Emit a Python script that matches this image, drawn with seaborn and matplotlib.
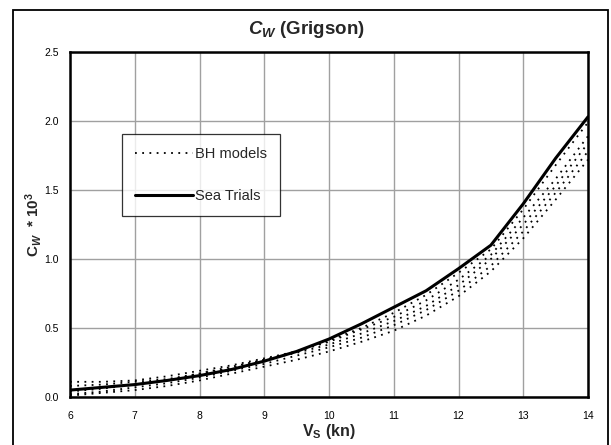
import numpy as np
import pandas as pd
import matplotlib
matplotlib.use("Agg")
import matplotlib.pyplot as plt
from matplotlib.lines import Line2D
from matplotlib.patches import Rectangle
import seaborn as sns

# speed (kn)
speed = [6, 6.5, 7, 7.5, 8, 8.5, 9, 9.5, 10, 10.5, 11, 11.5, 12, 12.5, 13, 13.5, 14]

# Cw * 10^3, sea trials
sea_trials = [0.05, 0.07, 0.09, 0.12, 0.155, 0.20, 0.26, 0.33, 0.42, 0.53, 0.65, 0.77, 0.93, 1.10, 1.40, 1.73, 2.03]

# Cw * 10^3, BH models
bh_1 = [0.08, 0.09, 0.11, 0.13, 0.17, 0.21, 0.27, 0.33, 0.41, 0.50, 0.61, 0.74, 0.90, 1.07, 1.36, 1.68, 1.99]
bh_2 = [0.11, 0.11, 0.12, 0.15, 0.19, 0.23, 0.28, 0.33, 0.40, 0.49, 0.58, 0.70, 0.85, 1.03, 1.30, 1.58, 1.89]
bh_3 = [0.04, 0.06, 0.09, 0.12, 0.17, 0.22, 0.27, 0.32, 0.38, 0.46, 0.55, 0.66, 0.81, 1.00, 1.25, 1.53, 1.84]
bh_4 = [0.02, 0.04, 0.07, 0.10, 0.14, 0.19, 0.24, 0.30, 0.36, 0.43, 0.52, 0.63, 0.77, 0.95, 1.20, 1.48, 1.78]
bh_5 = [0.01, 0.03, 0.05, 0.08, 0.12, 0.17, 0.22, 0.27, 0.33, 0.40, 0.48, 0.59, 0.73, 0.91, 1.15, 1.43, 1.72]

x_ticks = [6, 7, 8, 9, 10, 11, 12, 13, 14]
y_ticks = [0.0, 0.5, 1.0, 1.5, 2.0, 2.5]

sns.set_style("white")
plt.rcParams['font.family'] = ['Liberation Sans', 'DejaVu Sans']
plt.rcParams['mathtext.fontset'] = 'custom'
plt.rcParams['mathtext.rm'] = 'Liberation Sans:bold'
plt.rcParams['mathtext.it'] = 'Liberation Sans:bold:italic'
plt.rcParams['mathtext.bf'] = 'Liberation Sans:bold'

rows = []
for name, vals in [("bh1", bh_1), ("bh2", bh_2), ("bh3", bh_3), ("bh4", bh_4), ("bh5", bh_5)]:
    for s, v in zip(speed, vals):
        rows.append({"speed": s, "cw": v, "run": name})
bh = pd.DataFrame(rows)
st = pd.DataFrame({"speed": speed, "cw": sea_trials})

dot = (0, (1, 3))

fig = plt.figure(figsize=(6.11, 4.45), dpi=100)
ax = fig.add_axes([70 / 611, 1 - 397 / 445, 518 / 611, 345 / 445])

ax.set_axisbelow(True)
ax.grid(True, color="#a0a0a0", linewidth=1.0)

sns.lineplot(data=bh, x="speed", y="cw", units="run", estimator=None,
             color="black", linewidth=1.3, linestyle=dot, ax=ax, legend=False)
sns.lineplot(data=st, x="speed", y="cw", color="black", linewidth=2.2, ax=ax, legend=False)

ax.set_xlim(6, 14)
ax.set_ylim(0, 2.5)
ax.set_xticks(x_ticks)
ax.set_yticks(y_ticks)
ax.set_yticklabels([f"{v:.1f}" for v in y_ticks])
ax.tick_params(axis="both", labelsize=7.5, length=4, width=0.8, direction="out",
               colors="black")
ax.tick_params(axis="x", pad=6)
ax.tick_params(axis="y", pad=4)
for sp in ax.spines.values():
    sp.set_color("black")
    sp.set_linewidth(1.8)

ax.set_xlabel(r"$\mathrm{V_S}$ (kn)", fontsize=11.5, fontweight="bold", labelpad=1)
ax.set_ylabel(r"$\mathrm{C}_{W}$  * 10$^{\mathrm{3}}$", fontsize=11, fontweight="bold", labelpad=0)

fig.text(307 / 611, 1 - 29 / 445, r"$C_W$ (Grigson)", fontsize=13.5, fontweight="bold",
         ha="center", va="center")

handles = [Line2D([], [], color="black", linewidth=1.3, linestyle=dot),
           Line2D([], [], color="black", linewidth=2.2)]
leg = ax.legend(handles, ["BH models", "Sea Trials"], loc="upper left",
                bbox_to_anchor=((122 - 70) / 518, (397 - 134) / 345),
                frameon=True, fancybox=False, fontsize=10.5, handlelength=4.0,
                handletextpad=0.1, labelspacing=1.9, borderpad=0.9,
                borderaxespad=0)
leg.get_frame().set_edgecolor("black")
leg.get_frame().set_linewidth(0.9)

# outer chart border
fig.patches.append(Rectangle((13 / 611, -0.01), 595 / 611, 1.01 - 10 / 445,
                             transform=fig.transFigure, fill=False,
                             edgecolor="black", linewidth=1.3))

fig.savefig("out.png", dpi=100)
